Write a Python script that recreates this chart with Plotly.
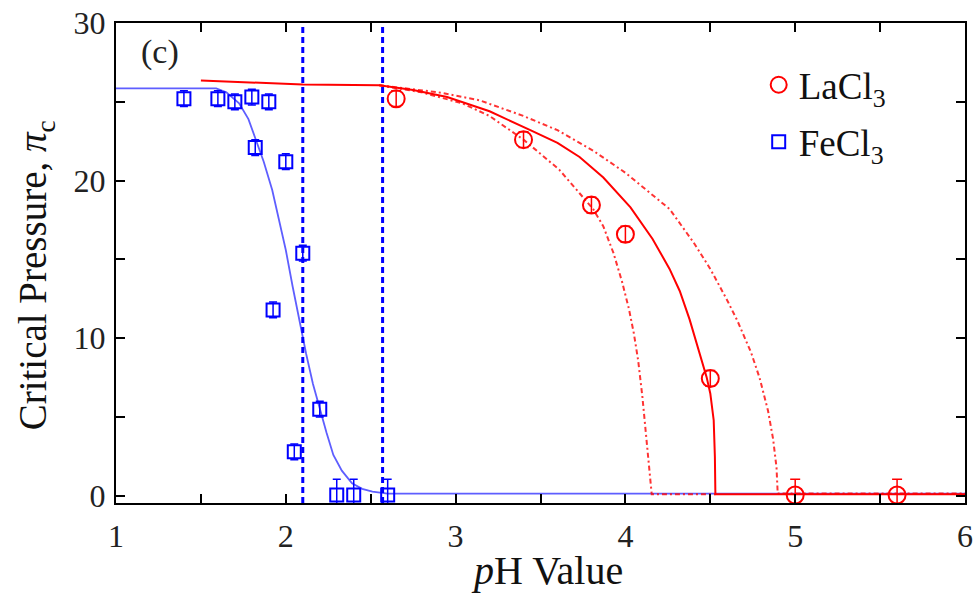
import plotly.graph_objects as go

# ---- data ----
fe_x = [1.40, 1.60, 1.70, 1.80, 1.90, 1.82, 2.00, 2.10, 1.925, 2.20, 2.05, 2.30, 2.40, 2.60]
fe_y = [25.2, 25.2, 25.0, 25.3, 25.0, 22.1, 21.2, 15.4, 11.8, 5.5, 2.8, 0.06, 0.06, 0.06]
fe_err = [0.5, 0.5, 0.5, 0.5, 0.5, 0.5, 0.5, 0.5, 0.5, 0.5, 0.5, 1.0, 1.0, 1.0]

la_x = [2.65, 3.40, 3.80, 4.00, 4.50, 5.00, 5.60]
la_y = [25.2, 22.6, 18.45, 16.6, 7.45, 0.06, 0.06]
la_err = [0.5, 0.5, 0.5, 0.5, 0.5, 1.0, 1.0]

fe_fit_x = [1.00, 1.59, 1.65, 1.725, 1.78, 1.825, 1.87, 1.92, 1.96, 2.00, 2.04, 2.08, 2.12,
            2.16, 2.20, 2.24, 2.28, 2.33, 2.39, 2.45, 2.51, 2.60, 6.00]
fe_fit_y = [25.85, 25.85, 25.6, 24.9, 23.9, 22.6, 21.2, 19.4, 17.5, 15.6, 13.3, 11.1, 9.0,
            7.1, 5.5, 4.0, 2.6, 1.6, 0.8, 0.45, 0.27, 0.15, 0.15]

la_fit_x = [1.50, 2.10, 2.55, 2.75, 2.95, 3.20, 3.44, 3.60, 3.73, 3.87, 4.03, 4.16, 4.26,
            4.32, 4.378, 4.437, 4.478, 4.50, 4.52, 4.527, 4.53, 6.00]
la_fit_y = [26.35, 26.1, 26.05, 25.75, 25.3, 24.4, 23.2, 22.4, 21.5, 20.2, 18.3, 16.3, 14.4,
            13.0, 11.2, 9.1, 7.55, 6.5, 4.8, 2.5, 0.1, 0.1]

la_low_x = [2.55, 2.80, 3.04, 3.20, 3.40, 3.61, 3.73, 3.81, 3.87, 3.93, 3.98, 4.02, 4.05,
            4.075, 4.10, 4.125, 4.145, 4.155, 4.53]
la_low_y = [26.05, 25.6, 24.9, 24.1, 22.6, 20.7, 19.2, 18.2, 17.1, 15.4, 13.6, 11.9, 10.3,
            8.6, 6.3, 3.5, 1.2, 0.1, 0.1]

la_high_x = [2.55, 2.90, 3.14, 3.40, 3.60, 3.81, 4.00, 4.26, 4.40, 4.50, 4.60, 4.66, 4.74,
             4.79, 4.84, 4.87, 4.89, 4.897, 6.00]
la_high_y = [26.05, 25.6, 25.1, 24.1, 23.2, 21.9, 20.5, 18.2, 16.1, 14.4, 12.4, 11.1, 9.1,
             7.5, 5.4, 3.6, 1.8, 0.15, 0.15]

vline_x = [2.10, 2.57]

x_ticks = [1, 1.5, 2, 2.5, 3, 3.5, 4, 4.5, 5, 5.5, 6]
x_labels = ["1", "", "2", "", "3", "", "4", "", "5", "", "6"]
y_ticks = [0, 5, 10, 15, 20, 25, 30]
y_labels = ["0", "", "10", "", "20", "", "30"]

Y_MIN, Y_MAX = -0.45, 30

RED = "#ff0000"
BLUE = "#0000ff"
FONT = "Liberation Serif"
DOTDASH = "5px,3px,2px,3px"

fig = go.Figure()

# blue fit curve
fig.add_trace(go.Scatter(x=fe_fit_x, y=fe_fit_y, mode="lines",
                         line=dict(color="rgba(40,40,255,0.75)", width=1.8),
                         showlegend=False, hoverinfo="skip"))

# red curves
fig.add_trace(go.Scatter(x=la_low_x, y=la_low_y, mode="lines",
                         line=dict(color="rgba(255,0,0,0.8)", width=2, dash=DOTDASH),
                         showlegend=False, hoverinfo="skip"))
fig.add_trace(go.Scatter(x=la_high_x, y=la_high_y, mode="lines",
                         line=dict(color="rgba(255,0,0,0.8)", width=2, dash=DOTDASH),
                         showlegend=False, hoverinfo="skip"))
fig.add_trace(go.Scatter(x=la_fit_x, y=la_fit_y, mode="lines",
                         line=dict(color=RED, width=2),
                         showlegend=False, hoverinfo="skip"))

# vertical dashed lines
for vx in vline_x:
    fig.add_trace(go.Scatter(x=[vx, vx], y=[Y_MIN, Y_MAX], mode="lines",
                             line=dict(color=BLUE, width=3, dash="6px,4px"),
                             showlegend=False, hoverinfo="skip"))

# data points
fig.add_trace(go.Scatter(x=la_x, y=la_y, mode="markers", name="LaCl<sub>3</sub>",
                         legendgroup="la",
                         marker=dict(symbol="circle-open", size=17, color=RED,
                                     line=dict(width=2, color=RED)),
                         error_y=dict(type="data", array=la_err, color=RED,
                                      thickness=1.5, width=5)))
fig.add_trace(go.Scatter(x=fe_x, y=fe_y, mode="markers", name="FeCl<sub>3</sub>",
                         legendgroup="fe",
                         marker=dict(symbol="square-open", size=13, color=BLUE,
                                     line=dict(width=2, color=BLUE)),
                         error_y=dict(type="data", array=fe_err, color=BLUE,
                                      thickness=1.5, width=4)))

axis_common = dict(
    showline=True, linecolor="black", linewidth=2, mirror="ticks",
    ticks="inside", ticklen=9, tickwidth=1.5, tickcolor="black",
    showgrid=False, zeroline=False, automargin=False,
    tickfont=dict(family=FONT, size=32, color="#222"),
)

fig.update_xaxes(range=[1, 6], tickmode="array", tickvals=x_ticks, ticktext=x_labels,
                 ticklabelstandoff=4, **axis_common)
fig.update_yaxes(range=[Y_MIN, Y_MAX], tickmode="array", tickvals=y_ticks, ticktext=y_labels,
                 ticklabelstandoff=2, **axis_common)

# axis titles
fig.add_annotation(text="<i>p</i>H Value", xref="paper", yref="paper",
                   x=0.508, y=-0.141, xanchor="center", yanchor="middle", showarrow=False,
                   font=dict(family=FONT, size=40, color="#111"))
fig.add_annotation(text="Critical Pressure, <i>π</i><sub>c</sub>", xref="paper", yref="paper",
                   x=-0.095, y=0.475, xanchor="center", yanchor="middle", textangle=-90,
                   showarrow=False, font=dict(family=FONT, size=39, color="#111"))

fig.add_annotation(text="(c)", xref="paper", yref="paper", x=0.052, y=0.94,
                   xanchor="center", yanchor="middle",
                   showarrow=False, font=dict(family=FONT, size=34, color="#222"))

fig.update_layout(
    width=973, height=595,
    margin=dict(l=116, r=8, t=23, b=92),
    paper_bgcolor="white", plot_bgcolor="white",
    legend=dict(x=0.757, y=0.935, xanchor="left", yanchor="top",
                font=dict(family=FONT, size=37, color="#111"),
                bgcolor="rgba(0,0,0,0)", tracegroupgap=6, traceorder="grouped",
                itemsizing="trace"),
    showlegend=True,
)

fig.write_html("out.html")
